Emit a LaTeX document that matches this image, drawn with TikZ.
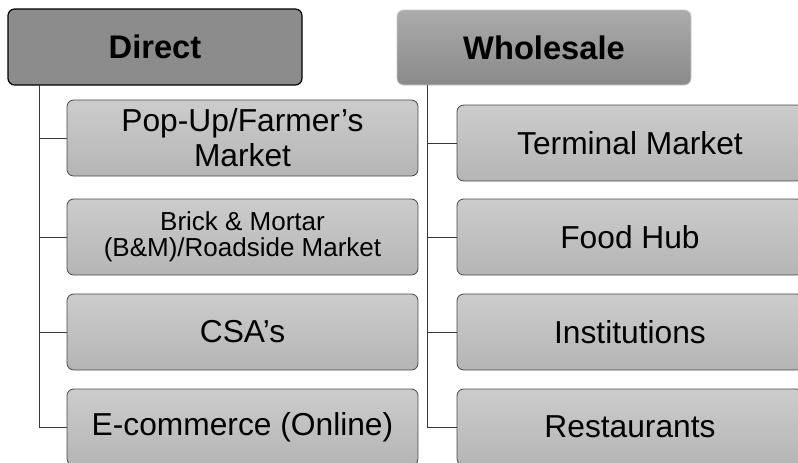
\documentclass[tikz,border=0pt]{standalone}
\usepackage{fontspec}
\setmainfont{Liberation Sans}
\begin{document}
\begin{tikzpicture}[x=0.75pt,y=-0.75pt,
  headdark/.style={draw=black, line width=0.9pt, rounded corners=5pt, fill=black!45, inner sep=0pt, text=black, minimum width=294*0.75pt, minimum height=76*0.75pt},
  headlight/.style={draw=black!22, line width=0.6pt, rounded corners=5pt, top color=black!33, bottom color=black!46, inner sep=0pt, text=black, minimum width=294*0.75pt, minimum height=75*0.75pt},
  child/.style={draw=black!72, line width=0.6pt, rounded corners=5pt, top color=black!20, bottom color=black!29, inner sep=0pt, align=center, text=black, minimum height=76*0.75pt},
  lchild/.style={child, minimum width=351*0.75pt},
  rchild/.style={child, minimum width=346*0.75pt},
  htext/.style={font=\fontsize{24.5}{28}\selectfont\bfseries},
  ctext/.style={font=\fontsize{23.8}{26.3}\selectfont},
  stext/.style={font=\fontsize{19.5}{19.5}\selectfont},
  conn/.style={draw=black!78, line width=0.7pt}
]
\useasboundingbox (0,0) rectangle (798,462);
\begin{scope}
\clip (0,0) rectangle (798,462);
% headers
\node[headdark, htext] (direct) at (155,47) {Direct};
\node[headlight, htext] (wholesale) at (544,47.5) {Wholesale};
% left children
\node[lchild, ctext] (popup) at (242.5,138) {Pop-Up/Farmer’s\\Market};
\node[lchild, stext] (brick) at (242.5,237) {Brick \& Mortar\\(B\&M)/Roadside Market};
\node[lchild, ctext] (csa) at (242.5,332) {CSA’s};
\node[lchild, ctext] (ecom) at (242.5,427) {E-commerce (Online)};
% right children
\node[rchild, ctext] (terminal) at (630,143) {Terminal Market};
\node[rchild, ctext] (foodhub) at (630,237) {Food Hub};
\node[rchild, ctext] (inst) at (630,332) {Institutions};
\node[rchild, ctext] (rest) at (630,427) {Restaurants};
% connectors
\coordinate (dtop) at (39,85);
\coordinate (wtop) at (427,85);
\draw[conn] (dtop) |- (ecom.west);
\draw[conn] (dtop) |- (popup.west);
\draw[conn] (dtop) |- (brick.west);
\draw[conn] (dtop) |- (csa.west);
\draw[conn] (wtop) |- (rest.west);
\draw[conn] (wtop) |- (terminal.west);
\draw[conn] (wtop) |- (foodhub.west);
\draw[conn] (wtop) |- (inst.west);
\end{scope}
\end{tikzpicture}
\end{document}
